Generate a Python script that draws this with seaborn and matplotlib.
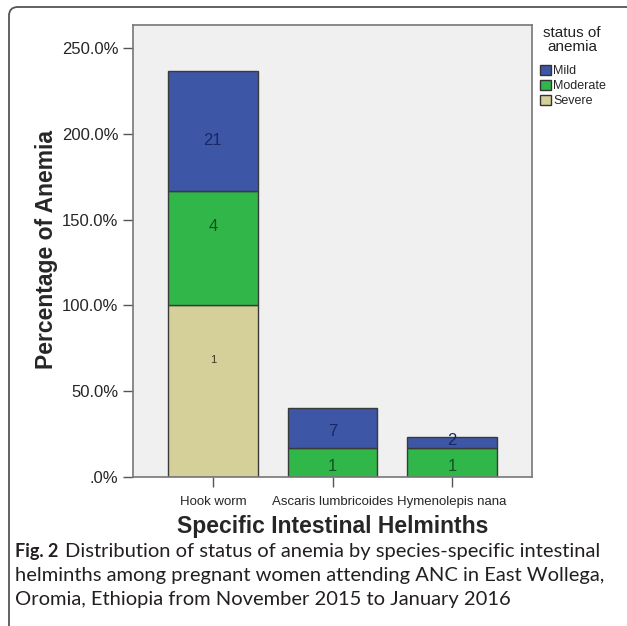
import matplotlib
matplotlib.use("Agg")
import matplotlib.pyplot as plt
from matplotlib.patches import FancyBboxPatch, Patch
from matplotlib.ticker import FuncFormatter
import pandas as pd
import seaborn as sns

species = ["Hook worm", "Ascaris lumbricoides", "Hymenolepis nana"]
statuses = ["Severe", "Moderate", "Mild"]  # bottom to top
severe_pct = [100.0, 0.0, 0.0]
moderate_pct = [66.7, 16.7, 16.7]
mild_pct = [70.0, 23.3, 6.7]
severe_n = [1, 0, 0]
moderate_n = [4, 1, 1]
mild_n = [21, 7, 2]
y_ticks = [0, 50, 100, 150, 200, 250]

# where SPSS put the count inside each segment (fraction of segment height)
severe_lab = [0.68, 0.5, 0.5]
moderate_lab = [0.685, 0.38, 0.38]
mild_lab = [0.42, 0.41, 0.64]

colors = {"Mild": "#3d56a6", "Moderate": "#31b649", "Severe": "#d5cf99"}
text_colors = {"Mild": "#1a2766", "Moderate": "#14531f", "Severe": "#3a3820"}

rows = []
for i, sp in enumerate(species):
    bottom = 0.0
    for st, pct, n, lf in zip(statuses, [severe_pct, moderate_pct, mild_pct],
                              [severe_n, moderate_n, mild_n],
                              [severe_lab, moderate_lab, mild_lab]):
        rows.append({"species": sp, "status": st, "pct": pct[i], "n": n[i],
                     "bottom": bottom, "lab": lf[i]})
        bottom += pct[i]
df = pd.DataFrame(rows)

sns.set_style("white")
plt.rcParams["font.family"] = ["Liberation Sans", "DejaVu Sans"]

fig = plt.figure(figsize=(6.27, 6.26), dpi=100)
ax = fig.add_axes([133 / 627, 1 - 477 / 626, 399 / 627, 452 / 626])
ax.set_facecolor("#f0f0f0")

for st in statuses:
    sub = df[(df["status"] == st) & (df["pct"] > 0)]
    sns.barplot(data=sub, x="species", y="pct", order=species, ax=ax,
                color=colors[st], saturation=1, width=0.75, errorbar=None,
                bottom=sub["bottom"].values, edgecolor="#3a3a3a", linewidth=1.0)
    for _, r in sub.iterrows():
        xi = species.index(r["species"])
        ax.text(xi, r["bottom"] + r["pct"] * r["lab"], str(r["n"]), ha="center", va="center",
                fontsize=12 if st != "Severe" else 8, color=text_colors[st])

ax.set_xlim(-0.667, 2.667)
ax.set_ylim(0, 263.4)
ax.set_yticks(y_ticks)
ax.yaxis.set_major_formatter(FuncFormatter(lambda v, p: ".0%" if v == 0 else f"{v:.1f}%"))
ax.tick_params(axis="y", labelsize=12, length=7, width=1, color="#555555", left=True)
ax.tick_params(axis="x", labelsize=9.5, length=7, width=1, color="#555555", bottom=True, pad=7)
for s in ax.spines.values():
    s.set_color("#777777")
    s.set_linewidth(1.2)
ax.set_xlabel("Specific Intestinal Helminths", fontsize=16.5, fontweight="bold", labelpad=5)
ax.set_ylabel("Percentage of Anemia", fontsize=16.5, fontweight="bold")
ax.yaxis.set_label_coords((58 - 133) / 399, (477 - 250) / 452)

# legend title as separate text, entries below
fig.text(572 / 627, 1 - 40 / 626, "status of\nanemia", ha="center", va="center",
         fontsize=11, linespacing=1.05, color="#222222")
handles = [Patch(facecolor=colors[s], edgecolor="#333333", label=s) for s in ["Mild", "Moderate", "Severe"]]
fig.legend(handles=handles, loc="upper left", bbox_to_anchor=(540 / 627, 1 - 65 / 626),
           frameon=False, fontsize=9, handlelength=0.85, handleheight=0.85,
           handletextpad=0.2, labelspacing=0.2, borderaxespad=0, borderpad=0)

# outer rounded frame
fig.patches.append(FancyBboxPatch((9 / 627, -0.05), 1.2, 1 - 7 / 626 + 0.05,
                                  boxstyle="round,pad=0,rounding_size=0.014",
                                  transform=fig.transFigure, facecolor="none",
                                  edgecolor="#555555", linewidth=1.3))

cap_font = ["Lato", "DejaVu Sans"]
cap_lines = ["Distribution of status of anemia by species-specific intestinal",
             "helminths among pregnant women attending ANC in East Wollega,",
             "Oromia, Ethiopia from November 2015 to January 2016"]
t = fig.text(15 / 627, 1 - 552 / 626, "Fig. 2", fontsize=13, fontweight="bold",
             family=cap_font, color="#231f20", va="center")
fig.canvas.draw()
bb = t.get_window_extent()
fig.text((bb.x1 + 7) / 627, 1 - 552 / 626, cap_lines[0], fontsize=14.5,
         family=cap_font, color="#231f20", va="center")
fig.text(15 / 627, 1 - 576 / 626, cap_lines[1], fontsize=14.5,
         family=cap_font, color="#231f20", va="center")
fig.text(15 / 627, 1 - 600 / 626, cap_lines[2], fontsize=14.5,
         family=cap_font, color="#231f20", va="center")

fig.savefig("out.png", dpi=100)
